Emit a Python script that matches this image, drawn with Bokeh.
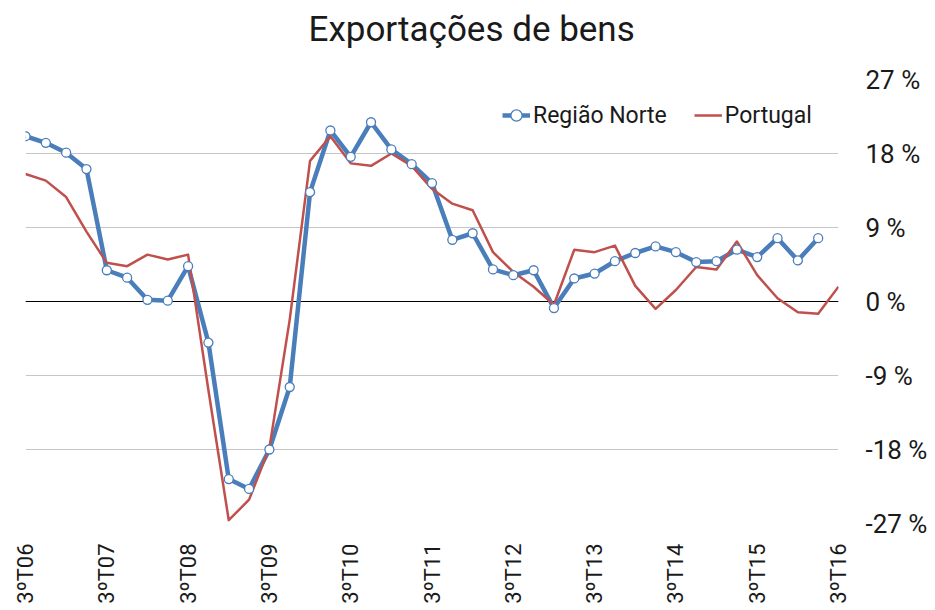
import math
from bokeh.plotting import figure
from bokeh.models import FixedTicker, Range1d, Span, Legend, LegendItem, Title
from bokeh.embed import file_html
from bokeh.resources import INLINE

# ---- data -------------------------------------------------------------
tick_positions = [0, 4, 8, 12, 16, 20, 24, 28, 32, 36, 40]
tick_labels = ["3ºT06", "3ºT07", "3ºT08", "3ºT09", "3ºT10", "3ºT11",
               "3ºT12", "3ºT13", "3ºT14", "3ºT15", "3ºT16"]
y_ticks = [-27, -18, -9, 0, 9, 18, 27]
y_tick_labels = ["-27 %", "-18 %", "-9 %", "0 %", "9 %", "18 %", "27 %"]

norte = [20.1, 19.3, 18.1, 16.1, 3.8, 2.9, 0.2, 0.1, 4.3, -5.0,
         -21.6, -22.8, -18.0, -10.4, 13.3, 20.8, 17.6, 21.8, 18.5, 16.7,
         14.4, 7.5, 8.3, 3.9, 3.2, 3.8, -0.8, 2.8, 3.4, 4.9,
         5.9, 6.7, 6.0, 4.8, 4.9, 6.3, 5.4, 7.7, 5.0, 7.7]
portugal = [15.5, 14.7, 12.7, 8.5, 4.7, 4.3, 5.7, 5.1, 5.7, -10.8,
            -26.6, -24.1, -17.8, -2.2, 17.1, 20.1, 16.8, 16.5, 18.0, 16.5,
            13.7, 11.9, 11.1, 6.0, 3.6, 1.8, -0.4, 6.3, 6.0, 6.8,
            1.9, -0.9, 1.4, 4.2, 3.9, 7.3, 3.2, 0.4, -1.3, -1.5, 1.8]

x_norte = list(range(len(norte)))
x_portugal = list(range(len(portugal)))

BLUE = "#4a7ebb"
RED = "#c0504d"
TEXT = "#1a1a1a"
FONT = "Roboto"

p = figure(width=935, height=610, output_backend="svg", toolbar_location=None,
           x_range=Range1d(0, 40), y_range=Range1d(-27, 27),
           y_axis_location="right", title_location=None,
           min_border_left=25, min_border_right=97,
           min_border_top=79, min_border_bottom=87)
p.outline_line_color = None
p.background_fill_color = "white"
p.border_fill_color = "white"

# title: a thin spacer next to the frame, then the real title above it
spacer = Title(text=" ", text_font_size="1px", standoff=22)
main_title = Title(text="Exportações de bens", align="left", offset=283,
                   text_font=FONT, text_font_size="35px",
                   text_font_style="normal", text_color=TEXT)
p.add_layout(spacer, "above")
p.add_layout(main_title, "above")

# x axis
xa = p.xaxis[0]
xa.ticker = FixedTicker(ticks=tick_positions)
xa.major_label_overrides = {pos: lab for pos, lab in zip(tick_positions, tick_labels)}
xa.major_label_orientation = math.pi / 2
xa.major_tick_line_color = None
xa.major_tick_out = 0
xa.major_tick_in = 0
xa.minor_tick_line_color = None
xa.minor_tick_out = 0
xa.axis_line_color = None
xa.major_label_standoff = 20
xa.major_label_text_font = FONT
xa.major_label_text_font_size = "22px"
xa.major_label_text_color = TEXT

# y axis (right)
ya = p.yaxis[0]
ya.ticker = FixedTicker(ticks=y_ticks)
ya.major_label_overrides = {v: lab for v, lab in zip(y_ticks, y_tick_labels)}
ya.major_tick_line_color = None
ya.major_tick_out = 0
ya.major_tick_in = 0
ya.minor_tick_line_color = None
ya.minor_tick_out = 0
ya.axis_line_color = None
ya.major_label_standoff = 27
ya.major_label_text_font = FONT
ya.major_label_text_font_size = "26px"
ya.major_label_text_color = TEXT

p.xgrid.visible = False
p.ygrid.ticker = FixedTicker(ticks=y_ticks)
p.ygrid.grid_line_color = "#c6c6c6"
p.ygrid.grid_line_width = 1

zero = Span(location=0, dimension="width", line_color="black", line_width=1,
            level="underlay")
p.add_layout(zero)

nl = p.line(x_norte, norte, line_color=BLUE, line_width=4.5, line_join="round")
pr = p.line(x_portugal, portugal, line_color=RED, line_width=2.5, line_join="round")
ns = p.scatter(x_norte, norte, marker="circle", size=9, fill_color="white",
               line_color=BLUE, line_width=1.3)

legend = Legend(items=[LegendItem(label="Região Norte", renderers=[nl, ns]),
                       LegendItem(label="Portugal", renderers=[pr])],
                orientation="horizontal", location=(477, 394),
                border_line_color=None, background_fill_alpha=0,
                glyph_width=28, glyph_height=28, label_height=28,
                label_standoff=3, spacing=27, padding=0, margin=0,
                label_text_font=FONT, label_text_font_size="23px",
                label_text_color=TEXT)
p.add_layout(legend)

open("out.html", "w").write(file_html(p, INLINE))
